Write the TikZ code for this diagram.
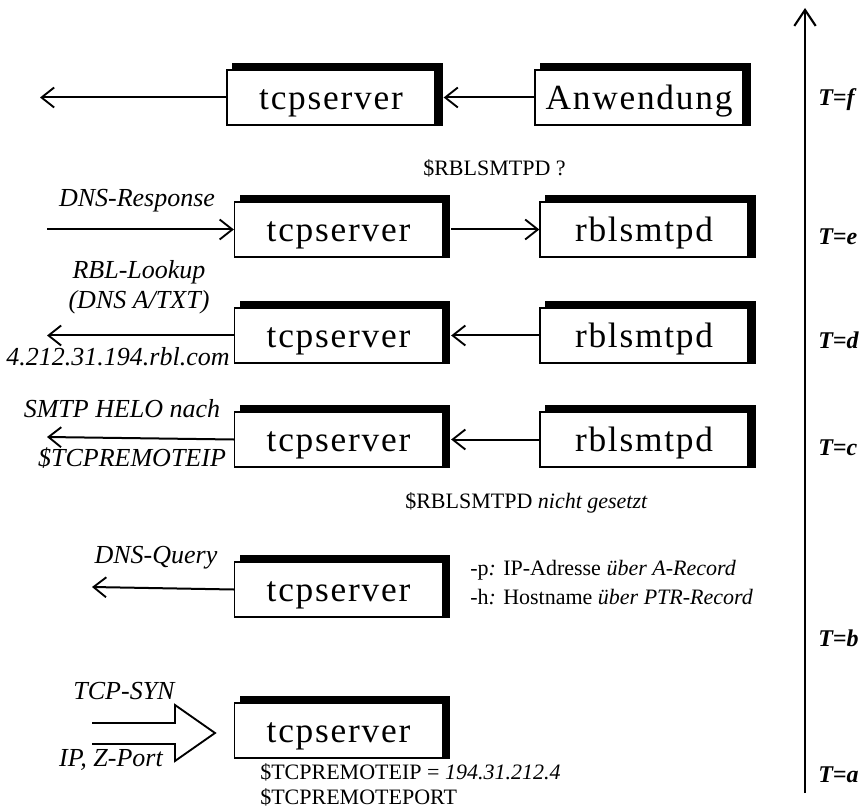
\documentclass[tikz,border=0pt]{standalone}
\usepackage{fontspec}
\setmainfont{Liberation Serif}
\newfontfamily\boxfont[LetterSpace=5]{Liberation Serif}
\usetikzlibrary{arrows.meta,backgrounds}
\begin{document}
\begin{tikzpicture}[x=0.75pt,y=-0.75pt,
  procbox/.style={draw, line width=1pt, fill=white, minimum width=156pt, minimum height=41.25pt, inner sep=0pt,
    text height=21pt, text depth=2.4pt,
    font=\boxfont\fontsize{26.5}{30}\selectfont},
  flow/.style={line width=1.5pt, -{Straight Barb[length=9.5pt,width=15pt,line width=1.4pt]}},
  lab/.style={font=\itshape\fontsize{19.5}{22}\selectfont, inner sep=0pt},
  note/.style={font=\fontsize{16.5}{19}\selectfont, inner sep=0pt, anchor=west},
  tlab/.style={font=\bfseries\itshape\fontsize{18}{20}\selectfont, inner sep=0pt, anchor=west}]
\useasboundingbox (0,0) rectangle (866,812);

% time axis
\coordinate (tbot) at (805,793);
\coordinate (ttop) at (805,8);
\draw[line width=2pt, -{Straight Barb[length=12pt,width=16pt,line width=1.6pt]}] (tbot) -- (ttop);
\node[tlab] (tf) at (818,100) {T=f};
\node[tlab] (te) at (818,237) {T=e};
\node[tlab] (td) at (818,340) {T=d};
\node[tlab] (tc) at (818,448) {T=c};
\node[tlab] (tb) at (818,638) {T=b};
\node[tlab] (ta) at (818,775) {T=a};

% row f
\node[procbox] (sf) at (331,97.5) {tcpserver};
\node[procbox] (af) at (639,97.5) {Anwendung};
\coordinate (fout) at (40,97.5);
\draw[flow] (sf.west) -- (fout);
\draw[flow] (af.west) -- ([xshift=6pt]sf.east);
\node[note] (q1) at (423,168) {\$RBLSMTPD ?};

% row e
\node[procbox] (se) at (338.5,229.5) {tcpserver};
\node[procbox] (re) at (644,229.5) {rblsmtpd};
\coordinate (ein) at (47,229.5);
\draw[flow] (ein) -- (se.west);
\draw[flow] ([xshift=6pt]se.east) -- (re.west);
\node[lab] (dnsr) at (137,201) {DNS-Response};

% row d
\node[procbox] (sd) at (338.5,335.5) {tcpserver};
\node[procbox] (rd) at (644,335.5) {rblsmtpd};
\coordinate (dout) at (47,335.5);
\draw[flow] (rd.west) -- ([xshift=6pt]sd.east);
\draw[flow] (sd.west) -- (dout);
\node[lab] (rbl1) at (139,272) {RBL-Lookup};
\node[lab] (rbl2) at (139,302) {(DNS A/TXT)};
\node[lab] (rbl3) at (118,357) {4.212.31.194.rbl.com};

% row c
\node[procbox] (sc) at (338.5,439.5) {tcpserver};
\node[procbox] (rc) at (644,439.5) {rblsmtpd};
\coordinate (cout) at (47,437);
\draw[flow] (rc.west) -- ([xshift=6pt]sc.east);
\draw[flow] (sc.west) -- (cout);
\node[lab] (smtp1) at (122,409) {SMTP HELO nach};
\node[lab] (smtp2) at (132,458) {\$TCPREMOTEIP};
\node[note] (ng) at (405,503) {\$RBLSMTPD \textit{nicht gesetzt}};

% row b
\node[procbox] (sb) at (338.5,589.5) {tcpserver};
\coordinate (bout) at (92,587);
\draw[flow] (sb.west) -- (bout);
\node[lab] (dnsq) at (156,558) {DNS-Query};
\node[note] (opt1) at (470,570) {-p\textit{:} IP-Adresse \textit{über A-Record}};
\node[note] (opt2) at (470,597) {-h\textit{:} Hostname \textit{über PTR-Record}};

% row a
\node[procbox] (sa) at (338.5,730.5) {tcpserver};
\draw[line width=1.4pt, line join=miter] (92,723) -- (175,723) -- (175,705) -- (215,733) -- (175,761) -- (175,744) -- (92,744);
\node[lab] (syn) at (124,691) {TCP-SYN};
\node[lab] (ipz) at (111,760) {IP, Z-Port};
\node[note] (rip) at (260,772) {\$TCPREMOTEIP = \textit{194.31.212.4}};
\node[note] (rport) at (260,797) {\$TCPREMOTEPORT};

% shadows
\begin{scope}[on background layer]
\foreach \b in {sf,af,se,re,sd,rd,sc,rc,sb,sa}
  \fill[black] ([xshift=4.5pt,yshift=4.5pt]\b.north west) rectangle ([xshift=5.25pt]\b.south east);
\end{scope}
\end{tikzpicture}
\end{document}
